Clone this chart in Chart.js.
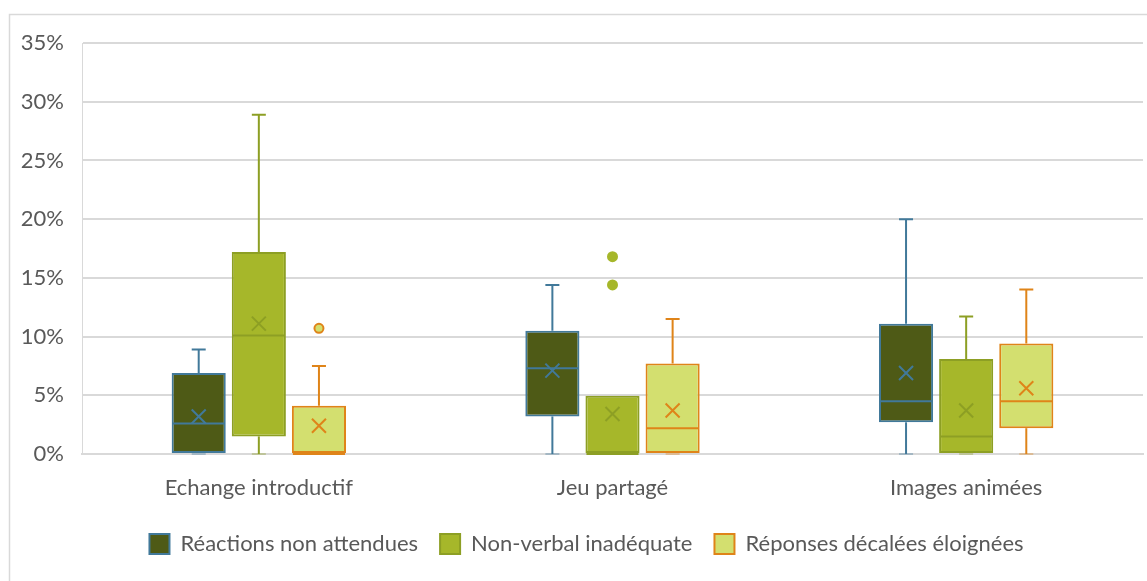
<!DOCTYPE html>
<html>
<head>
<meta charset="utf-8">
<script src="https://cdn.jsdelivr.net/npm/chart.js@4/dist/chart.umd.min.js"></script>
<style>
  html, body { margin: 0; padding: 0; background: #fff; }
  #wrap { width: 1147px; height: 581px; position: relative; }
</style>
</head>
<body>
<div id="wrap"><canvas id="boxChart"></canvas></div>
<script>
// Catégories et séries (valeurs en %)
const categories = ['Echange introductif', 'Jeu partagé', 'Images animées'];
const seriesNames = ['Réactions non attendues', 'Non-verbal inadéquate', 'Réponses décalées éloignées'];
const yTicks = [0, 5, 10, 15, 20, 25, 30, 35];

// Réactions non attendues
const reactionsMin = [0, 0, 0];
const reactionsQ1 = [0, 3.2, 2.7];
const reactionsMedian = [2.6, 7.3, 4.5];
const reactionsQ3 = [6.9, 10.5, 11.1];
const reactionsMax = [8.9, 14.4, 20.0];
const reactionsMean = [3.2, 7.1, 6.9];
const reactionsOutliers = [[], [], []];

// Non-verbal inadéquate
const nonVerbalMin = [0, 0, 0];
const nonVerbalQ1 = [1.5, 0, 0];
const nonVerbalMedian = [10.1, 0, 1.5];
const nonVerbalQ3 = [17.2, 4.95, 8.1];
const nonVerbalMax = [28.9, 4.95, 11.7];
const nonVerbalMean = [11.1, 3.4, 3.7];
const nonVerbalOutliers = [[], [14.4, 16.8], []];

// Réponses décalées éloignées
const reponsesMin = [0, 0, 0];
const reponsesQ1 = [0, 0, 2.2];
const reponsesMedian = [0, 2.2, 4.5];
const reponsesQ3 = [4.1, 7.7, 9.4];
const reponsesMax = [7.5, 11.5, 14.0];
const reponsesMean = [2.4, 3.7, 5.6];
const reponsesOutliers = [[10.7], [], []];

const stats = [
    { min: reactionsMin, q1: reactionsQ1, med: reactionsMedian, q3: reactionsQ3, max: reactionsMax, mean: reactionsMean, out: reactionsOutliers,
      fill: '#4e5a16', line: '#41799a', outFill: '#41799a' },
    { min: nonVerbalMin, q1: nonVerbalQ1, med: nonVerbalMedian, q3: nonVerbalQ3, max: nonVerbalMax, mean: nonVerbalMean, out: nonVerbalOutliers,
      fill: '#a6b72a', line: '#8d9f24', outFill: '#a6b72a' },
    { min: reponsesMin, q1: reponsesQ1, med: reponsesMedian, q3: reponsesQ3, max: reponsesMax, mean: reponsesMean, out: reponsesOutliers,
      fill: '#d3df6f', line: '#df8419', outFill: '#d3df6f' }
];

const FONT = 'Lato, "Open Sans", sans-serif';
const TEXT = '#595959';
const GRID = '#d9d9d9';

// cadre extérieur du graphique + décalage de la légende
const framePlugin = {
    id: 'frame',
    afterLayout(chart) {
        // la légende d'origine est un peu décalée vers la droite
        chart.legend.left += 15;
        chart.legend.right += 15;
    },
    beforeDraw(chart) {
        const ctx = chart.ctx;
        ctx.save();
        ctx.fillStyle = '#fff';
        ctx.fillRect(0, 0, chart.width, chart.height);
        ctx.strokeStyle = GRID;
        ctx.lineWidth = 1.5;
        ctx.strokeRect(9.5, 14.5, chart.width + 20, chart.height + 20);
        ctx.restore();
    }
};

// moustaches, médianes, moyennes et valeurs isolées
const boxPlugin = {
    id: 'boxExtras',
    afterDatasetsDraw(chart) {
        const ctx = chart.ctx;
        const y = chart.scales.y;
        ctx.save();
        stats.forEach((s, d) => {
            const meta = chart.getDatasetMeta(d);
            meta.data.forEach((bar, i) => {
                const x = bar.x;
                const half = bar.width / 2;
                const cap = 7;
                ctx.strokeStyle = s.line;
                ctx.lineWidth = 2;

                // moustache haute
                if (s.max[i] > s.q3[i]) {
                    ctx.beginPath();
                    ctx.moveTo(x, y.getPixelForValue(s.q3[i]));
                    ctx.lineTo(x, y.getPixelForValue(s.max[i]));
                    ctx.moveTo(x - cap, y.getPixelForValue(s.max[i]));
                    ctx.lineTo(x + cap, y.getPixelForValue(s.max[i]));
                    ctx.stroke();
                }
                // moustache basse
                if (s.min[i] < s.q1[i]) {
                    ctx.beginPath();
                    ctx.moveTo(x, y.getPixelForValue(s.q1[i]));
                    ctx.lineTo(x, y.getPixelForValue(s.min[i]));
                    ctx.stroke();
                }
                // petit trait pâle au minimum
                ctx.globalAlpha = 0.35;
                ctx.beginPath();
                ctx.moveTo(x - cap, y.getPixelForValue(s.min[i]));
                ctx.lineTo(x + cap, y.getPixelForValue(s.min[i]));
                ctx.stroke();
                ctx.globalAlpha = 1;

                // médiane
                const ym = y.getPixelForValue(s.med[i]);
                ctx.beginPath();
                ctx.moveTo(x - half + 1, ym);
                ctx.lineTo(x + half - 1, ym);
                ctx.stroke();

                // moyenne (X)
                const yc = y.getPixelForValue(s.mean[i]);
                const r = 7;
                ctx.beginPath();
                ctx.moveTo(x - r, yc - r);
                ctx.lineTo(x + r, yc + r);
                ctx.moveTo(x + r, yc - r);
                ctx.lineTo(x - r, yc + r);
                ctx.stroke();

                // valeurs isolées
                s.out[i].forEach(v => {
                    ctx.beginPath();
                    ctx.arc(x, y.getPixelForValue(v), 4.5, 0, Math.PI * 2);
                    ctx.fillStyle = s.outFill;
                    ctx.fill();
                    ctx.lineWidth = 2;
                    ctx.strokeStyle = d === 1 ? s.fill : s.line;
                    ctx.stroke();
                });
            });
        });
        ctx.restore();
    }
};

const datasets = stats.map((s, d) => ({
    label: seriesNames[d],
    data: s.q1.map((v, i) => [v, s.q3[i]]),
    backgroundColor: s.fill,
    borderColor: s.line,
    borderWidth: 2,
    borderSkipped: false,
    categoryPercentage: 0.51,
    barPercentage: 0.9
}));

new Chart(document.getElementById('boxChart'), {
    type: 'bar',
    data: { labels: categories, datasets: datasets },
    plugins: [framePlugin, boxPlugin],
    options: {
        responsive: true,
        maintainAspectRatio: false,
        animation: false,
        layout: { padding: { top: 43, right: 4, left: 0, bottom: 16 } },
        plugins: {
            tooltip: { enabled: false },
            legend: {
                position: 'bottom',
                labels: {
                    font: { family: FONT, size: 22 },
                    color: TEXT,
                    boxWidth: 20,
                    boxHeight: 20,
                    padding: 22
                }
            }
        },
        scales: {
            x: {
                afterFit(scale) { scale.height = 57; },
                grid: { display: false },
                border: { color: GRID, width: 2 },
                ticks: { font: { family: FONT, size: 22 }, color: TEXT, padding: 13 }
            },
            y: {
                min: 0,
                max: 35,
                afterBuildTicks(scale) {
                    scale.ticks = yTicks.map(v => ({ value: v }));
                },
                afterFit(scale) { scale.width = 82; },
                grid: { color: GRID, lineWidth: 2, drawTicks: false },
                border: { display: true, color: GRID, width: 1 },
                ticks: {
                    font: { family: FONT, size: 22 },
                    color: TEXT,
                    padding: 18,
                    callback: v => v + '%'
                }
            }
        }
    }
});
</script>
</body>
</html>
